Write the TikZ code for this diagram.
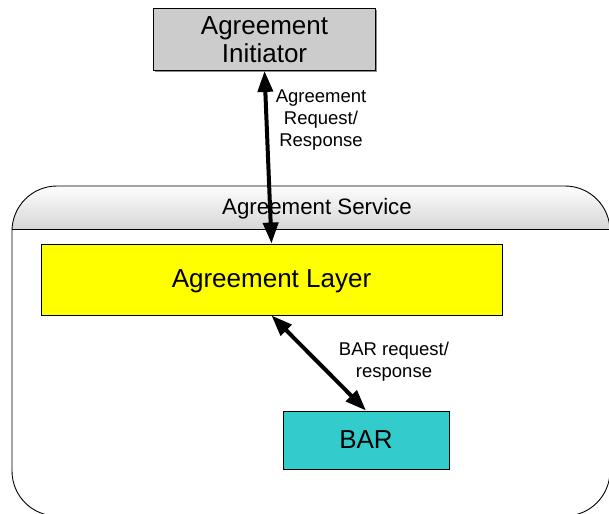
\documentclass[tikz,border=0pt]{standalone}
\usepackage{fontspec}
\setmainfont{Liberation Sans}
\usetikzlibrary{arrows.meta,shadows}
\definecolor{initgray}{HTML}{CCCCCC}
\definecolor{barteal}{HTML}{33CCCC}
\definecolor{hdrgray}{HTML}{D6D6D6}
\definecolor{layeryellow}{HTML}{FFFF00}
\begin{document}
\begin{tikzpicture}[x=1pt,y=-1pt,
  box/.style={draw=black, line width=0.9pt, inner sep=0pt, align=center,
    drop shadow={shadow xshift=1.3pt, shadow yshift=-1.3pt, fill=black!45, opacity=1}},
  bigtext/.style={font=\fontsize{26}{28.5}\selectfont},
  lbl/.style={font=\fontsize{18.5}{22}\selectfont, align=center, inner sep=0pt},
  link/.style={line width=4pt, {Triangle[length=21pt,width=15pt]}-{Triangle[length=21pt,width=15pt]}}
]
\useasboundingbox (0,0) rectangle (609,513);
% container
\begin{scope}
  \clip[rounded corners=45pt] (12,186) rectangle (610,516);
  \shade[top color=white, bottom color=hdrgray] (10,184) rectangle (612,229);
\end{scope}
\draw[line width=0.9pt, rounded corners=45pt] (12,186) rectangle (610,516);
\draw[line width=0.9pt] (12,229) -- (610,229);
\node[font=\fontsize{22.3}{24}\selectfont, inner sep=0pt] (svc) at (317,209) {Agreement Service};

\node[box, bigtext, fill=initgray, minimum width=222pt, minimum height=62pt] (init) at (264.5,39.5) {Agreement\\Initiator};
\node[box, bigtext, fill=layeryellow, minimum width=461pt, minimum height=71pt, text height=19pt, text depth=3pt] (layer) at (271.5,279.5) {Agreement Layer};
\node[box, bigtext, fill=barteal, minimum width=166pt, minimum height=58pt] (bar) at (366,440) {BAR};

\draw[link] (init.south) -- (layer.north);
\draw[link] (layer.south) -- (bar.north);

\node[lbl] (l1) at (321,120.5) {Agreement\\Request/\\Response};
\node[lbl] (l2) at (394,362) {BAR request/\\response};
\end{tikzpicture}
\end{document}
